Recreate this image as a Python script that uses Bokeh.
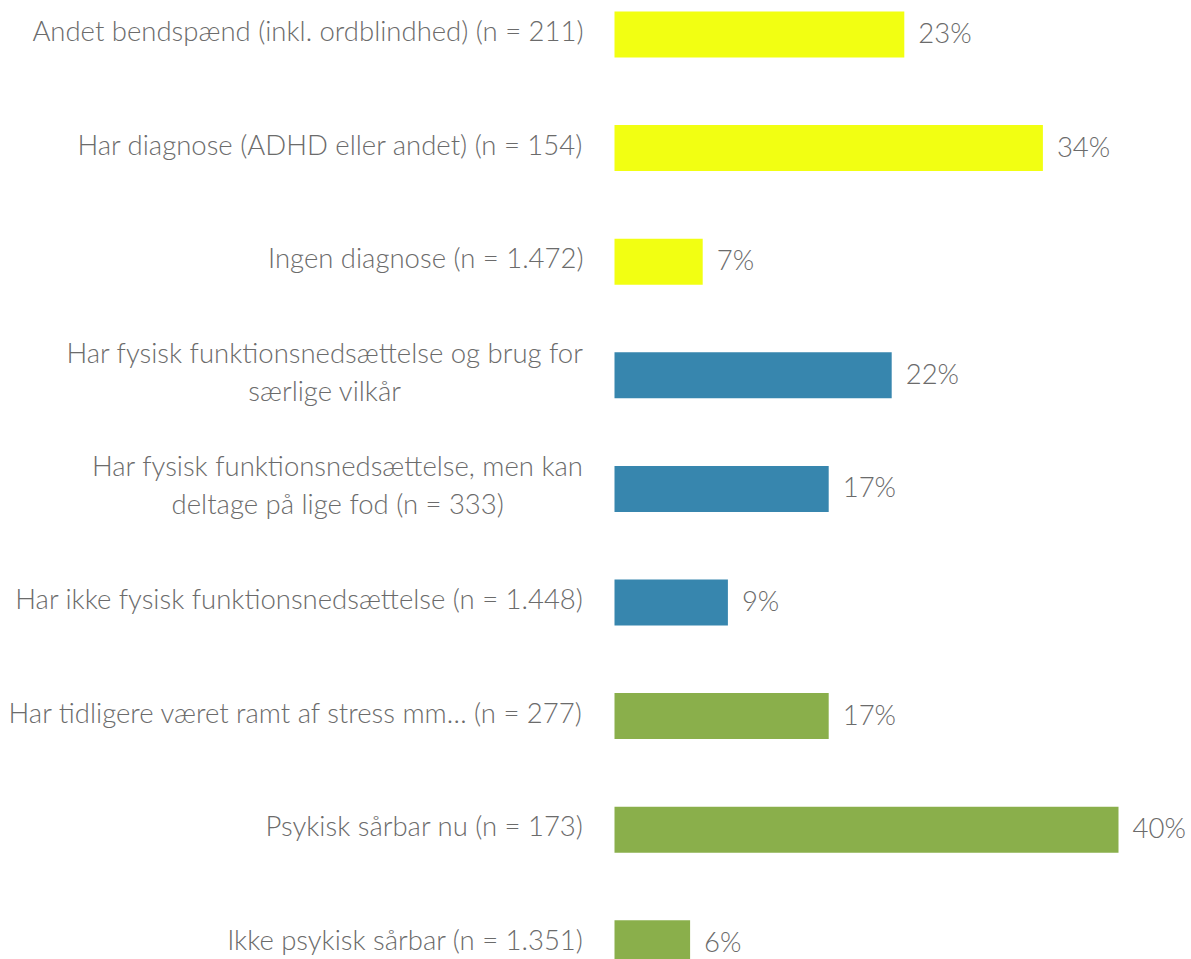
from bokeh.plotting import figure
from bokeh.models import ColumnDataSource, Range1d
from bokeh.core.properties import value
from bokeh.embed import file_html
from bokeh.resources import INLINE

categories = [
    "Andet bendspænd (inkl. ordblindhed) (n = 211)",
    "Har diagnose (ADHD eller andet) (n = 154)",
    "Ingen diagnose (n = 1.472)",
    "Har fysisk funktionsnedsættelse og brug for\nsærlige vilkår",
    "Har fysisk funktionsnedsættelse, men kan\ndeltage på lige fod (n = 333)",
    "Har ikke fysisk funktionsnedsættelse (n = 1.448)",
    "Har tidligere været ramt af stress mm… (n = 277)",
    "Psykisk sårbar nu (n = 173)",
    "Ikke psykisk sårbar (n = 1.351)",
]
values = [23, 34, 7, 22, 17, 9, 17, 40, 6]
groups = ["diagnose", "diagnose", "diagnose",
          "fysisk", "fysisk", "fysisk",
          "psykisk", "psykisk", "psykisk"]
group_colors = {"diagnose": "#F2FF12", "fysisk": "#3786AE", "psykisk": "#8AAF4B"}

FONT = "Lato Light"
TEXT_COLOR = "#6b6b6b"

pos = list(range(len(categories)))
src = ColumnDataSource(dict(
    y=pos,
    v=values,
    cat=categories,
    zero=[0] * len(values),
    lbl=[f"{v}%" for v in values],
    color=[group_colors[g] for g in groups],
))

W, H = 1187, 959
px_per_unit = 12.6
x0_px = 614
x_start = -x0_px / px_per_unit
x_end = x_start + W / px_per_unit
y_step = 113.6
top_px = 34
y_top = -top_px / y_step
y_bottom = y_top + H / y_step

p = figure(width=W, height=H, output_backend="svg", toolbar_location=None,
           x_range=Range1d(x_start, x_end), y_range=Range1d(y_bottom, y_top),
           min_border=0, min_border_left=0, min_border_right=0,
           min_border_top=0, min_border_bottom=0)
p.axis.visible = False
p.grid.visible = False
p.outline_line_color = None
p.background_fill_color = "white"
p.border_fill_color = "white"

p.hbar(y="y", left="zero", right="v", height=46 / y_step, color="color",
       line_color=None, source=src)

p.text(x="zero", y="y", text="cat", source=src, x_offset=-31, y_offset=-4,
       anchor="center_right", text_align="center", text_baseline="middle",
       text_font=value(FONT), text_font_size="27.5px", text_color=TEXT_COLOR,
       text_line_height=1.15)

p.text(x="v", y="y", text="lbl", source=src, x_offset=14, y_offset=-2,
       text_align="left", text_baseline="middle",
       text_font=value(FONT), text_font_size="27.5px", text_color=TEXT_COLOR)

open("out.html", "w").write(file_html(p, INLINE))
